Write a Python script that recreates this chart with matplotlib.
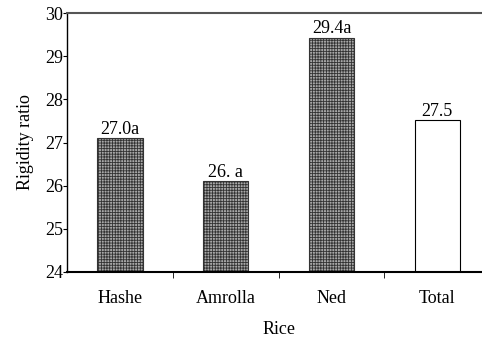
import matplotlib.pyplot as plt
import numpy as np

plt.rcParams['font.family'] = ['Liberation Serif', 'DejaVu Serif']
plt.rcParams['hatch.linewidth'] = 0.6

categories = ['Hashe', 'Amrolla', 'Ned', 'Total']
values = [27.1, 26.1, 29.43, 27.52]
bar_labels = ['27.0a', '26. a', '29.4a', '27.5']

fig = plt.figure(figsize=(4.82, 3.43), dpi=100)
ax = fig.add_axes([0.139, 0.207, 0.878, 0.755])

x = np.arange(len(categories))
bottom = 24
heights = [v - bottom for v in values]
for i in range(len(categories)):
    if categories[i] == 'Total':
        ax.bar(x[i], heights[i], bottom=bottom, width=0.43, color='white', edgecolor='black', linewidth=0.8)
    else:
        ax.bar(x[i], heights[i], bottom=bottom, width=0.43, color='#a8a8a8', edgecolor='#333333',
               hatch='++++++', linewidth=0.8)
    ax.text(x[i], values[i] + 0.01, bar_labels[i], ha='center', va='bottom', fontsize=13)

ax.set_xlim(-0.5, 3.5)
ax.set_ylim(24, 30)
ax.set_yticks(range(24, 31))
ax.set_xticks(x)
ax.set_xticklabels(categories, fontsize=13)
ax.set_xticks(x[:-1] + 0.5, minor=True)
ax.tick_params(axis='x', which='major', length=0, pad=13)
ax.tick_params(axis='x', which='minor', length=4, direction='out')
ax.tick_params(axis='y', labelsize=13, length=3, direction='out', pad=0)

ax.spines['top'].set_color('#555555')
ax.spines['top'].set_linewidth(1.5)
ax.spines['right'].set_visible(False)
ax.spines['left'].set_linewidth(1.0)
ax.spines['bottom'].set_linewidth(1.5)

ax.set_xlabel('Rice', fontsize=13, labelpad=10)
ax.set_ylabel('Rigidity ratio', fontsize=13)
ax.yaxis.set_label_coords(-0.077, 0.5)

fig.savefig('out.png', dpi=100)
